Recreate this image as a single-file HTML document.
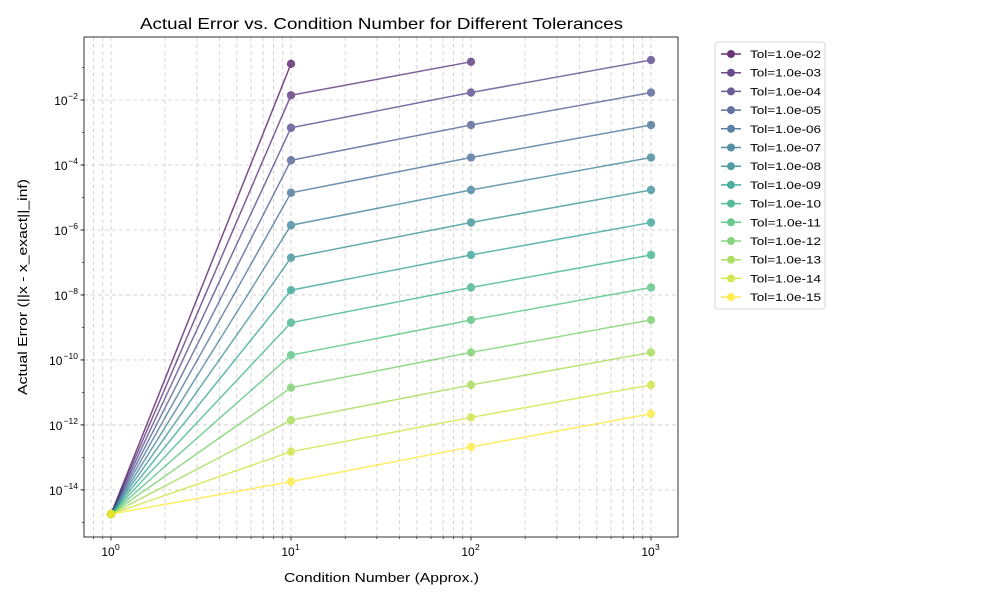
<!DOCTYPE html>
<html><head><meta charset="utf-8"><style>
body{margin:0;background:#fff;font-family:"Liberation Sans","DejaVu Sans",sans-serif}
svg text{font-family:"Liberation Sans","DejaVu Sans",sans-serif}
</style></head><body>
<svg id="c" width="1000" height="600"></svg>
<script>
const kappas=[1,10,100,1000];
const tolLabels=["Tol=1.0e-02","Tol=1.0e-03","Tol=1.0e-04","Tol=1.0e-05","Tol=1.0e-06","Tol=1.0e-07","Tol=1.0e-08","Tol=1.0e-09","Tol=1.0e-10","Tol=1.0e-11","Tol=1.0e-12","Tol=1.0e-13","Tol=1.0e-14","Tol=1.0e-15"];
const errAt1=[1.8e-15,1.8e-15,1.8e-15,1.8e-15,1.8e-15,1.8e-15,1.8e-15,1.8e-15,1.8e-15,1.8e-15,1.8e-15,1.8e-15,1.8e-15,1.8e-15];
const errAt10=[1.3e-1,1.4e-2,1.4e-3,1.4e-4,1.4e-5,1.4e-6,1.4e-7,1.4e-8,1.4e-9,1.4e-10,1.4e-11,1.4e-12,1.5e-13,1.8e-14];
const errAt100=[null,1.5e-1,1.7e-2,1.7e-3,1.7e-4,1.7e-5,1.7e-6,1.7e-7,1.7e-8,1.7e-9,1.7e-10,1.7e-11,1.7e-12,2.1e-13];
const errAt1000=[null,null,1.7e-1,1.7e-2,1.7e-3,1.7e-4,1.7e-5,1.7e-6,1.7e-7,1.7e-8,1.7e-9,1.7e-10,1.7e-11,2.2e-12];
const yTickExps=[-14,-12,-10,-8,-6,-4,-2];
const xTickExps=[0,1,2,3];

const svg=document.getElementById('c');const NS="http://www.w3.org/2000/svg";
function mk(t,a,p){const e=document.createElementNS(NS,t);for(const k in a)e.setAttribute(k,a[k]);(p||svg).appendChild(e);return e;}
const L=84,R=678,T=37,B=537;
const xl0=-0.15,xl1=3.15,yl0=-15.45,yl1=-0.06;
const X=v=>L+(Math.log10(v)-xl0)/(xl1-xl0)*(R-L);
const Y=v=>B-(Math.log10(v)-yl0)/(yl1-yl0)*(B-T);
const vir=[[68,1,84],[72,40,120],[62,74,137],[49,104,142],[38,130,142],[31,158,137],[53,183,121],[109,205,89],[180,222,44],[253,231,37]];
function color(t){const s=t*(vir.length-1);const i=Math.min(Math.floor(s),vir.length-2);const f=s-i;const c=vir[i].map((v,k)=>Math.round(v+(vir[i+1][k]-v)*f));return `rgb(${c})`;}
const g=mk('g',{});
for(let e=-1;e<=3;e++)for(let m=1;m<=9;m++){const v=m*Math.pow(10,e);const x=X(v);if(x<L||x>R)continue;
 mk('line',{x1:x,x2:x,y1:T,y2:B,stroke:'#ccc','stroke-width':0.8,'stroke-dasharray':'4,3'},g);}
yTickExps.forEach(e=>{const y=Y(Math.pow(10,e));mk('line',{x1:L,x2:R,y1:y,y2:y,stroke:'#ccc','stroke-width':0.8,'stroke-dasharray':'4,3'},g);});
const n=tolLabels.length;
for(let i=0;i<n;i++){
 const col=color(i/(n-1));
 const vals=[errAt1[i],errAt10[i],errAt100[i],errAt1000[i]];
 const sg=mk('g',{opacity:0.7});
 
 
 const pts=[];vals.forEach((v,j)=>{if(v!=null)pts.push([X(kappas[j]),Y(v)]);});
 mk('polyline',{points:pts.map(p=>p.join(',')).join(' '),fill:'none',stroke:col,'stroke-width':1.5},sg);
 pts.forEach(p=>{const c=mk('circle',{cx:p[0],cy:p[1],r:4.2,fill:col},sg);});
}
const fr=mk('rect',{x:L,y:T,width:R-L,height:B-T,fill:'none',stroke:'#000','stroke-width':0.8});

const xa=mk('g',{});
for(let e=-1;e<=3;e++)for(let m=2;m<=9;m++){const x=X(m*Math.pow(10,e));if(x<L||x>R)continue;mk('line',{x1:x,x2:x,y1:B,y2:B+2,stroke:'#000','stroke-width':0.6},xa);}
xTickExps.forEach(e=>{const x=X(Math.pow(10,e));mk('line',{x1:x,x2:x,y1:B,y2:B+3.5,stroke:'#000','stroke-width':0.8},xa);
 const t=mk('text',{x:x-3,y:B+19,'font-size':12,'text-anchor':'middle'},xa);t.textContent='10';
 const s=mk('text',{x:x+4,y:B+13,'font-size':8.5},xa);s.textContent=String(e);});
const ya=mk('g',{});
for(let e=-15;e<=-1;e++){const y=Y(Math.pow(10,e));if(y<T||y>B)continue;mk('line',{x1:L-2,x2:L,y1:y,y2:y,stroke:'#000','stroke-width':0.6},ya);}
yTickExps.forEach(e=>{const y=Y(Math.pow(10,e));mk('line',{x1:L-3.5,x2:L,y1:y,y2:y,stroke:'#000','stroke-width':0.8},ya);
 const s=mk('text',{x:L-6,y:y-1,'font-size':8.5,'text-anchor':'end'},ya);s.textContent=String(e).replace('-','\u2212');
 const w=String(e).length*5.2;
 const t=mk('text',{x:L-6-w,y:y+5,'font-size':12,'text-anchor':'end'},ya);t.textContent='10';});
let t=mk('text',{x:140,y:29,'font-size':16,textLength:483,lengthAdjust:'spacingAndGlyphs'});t.textContent='Actual Error vs. Condition Number for Different Tolerances';
t=mk('text',{x:284,y:582,'font-size':13,textLength:195,lengthAdjust:'spacingAndGlyphs'});t.textContent='Condition Number (Approx.)';
t=mk('text',{x:27,y:395,'font-size':13,textLength:216,lengthAdjust:'spacingAndGlyphs',transform:'rotate(-90 27 395)'});t.textContent='Actual Error (||x - x_exact||_inf)';
const lg=mk('g',{});
mk('rect',{x:715,y:42,width:110,height:267,rx:3,fill:'#fff',stroke:'#ccc','stroke-width':0.8},lg);
for(let i=0;i<n;i++){const y=54+i*18.7;const col=color(i/(n-1));
 const eg=mk('g',{opacity:0.8},lg);
 mk('line',{x1:721,x2:741,y1:y,y2:y,stroke:col,'stroke-width':1.5},eg);
 mk('circle',{cx:731,cy:y,r:4,fill:col},eg);
 const tt=mk('text',{x:750,y:y+4,'font-size':11,fill:'#000',textLength:71,lengthAdjust:'spacingAndGlyphs'},lg);tt.textContent=tolLabels[i];}
</script>
</body></html>
